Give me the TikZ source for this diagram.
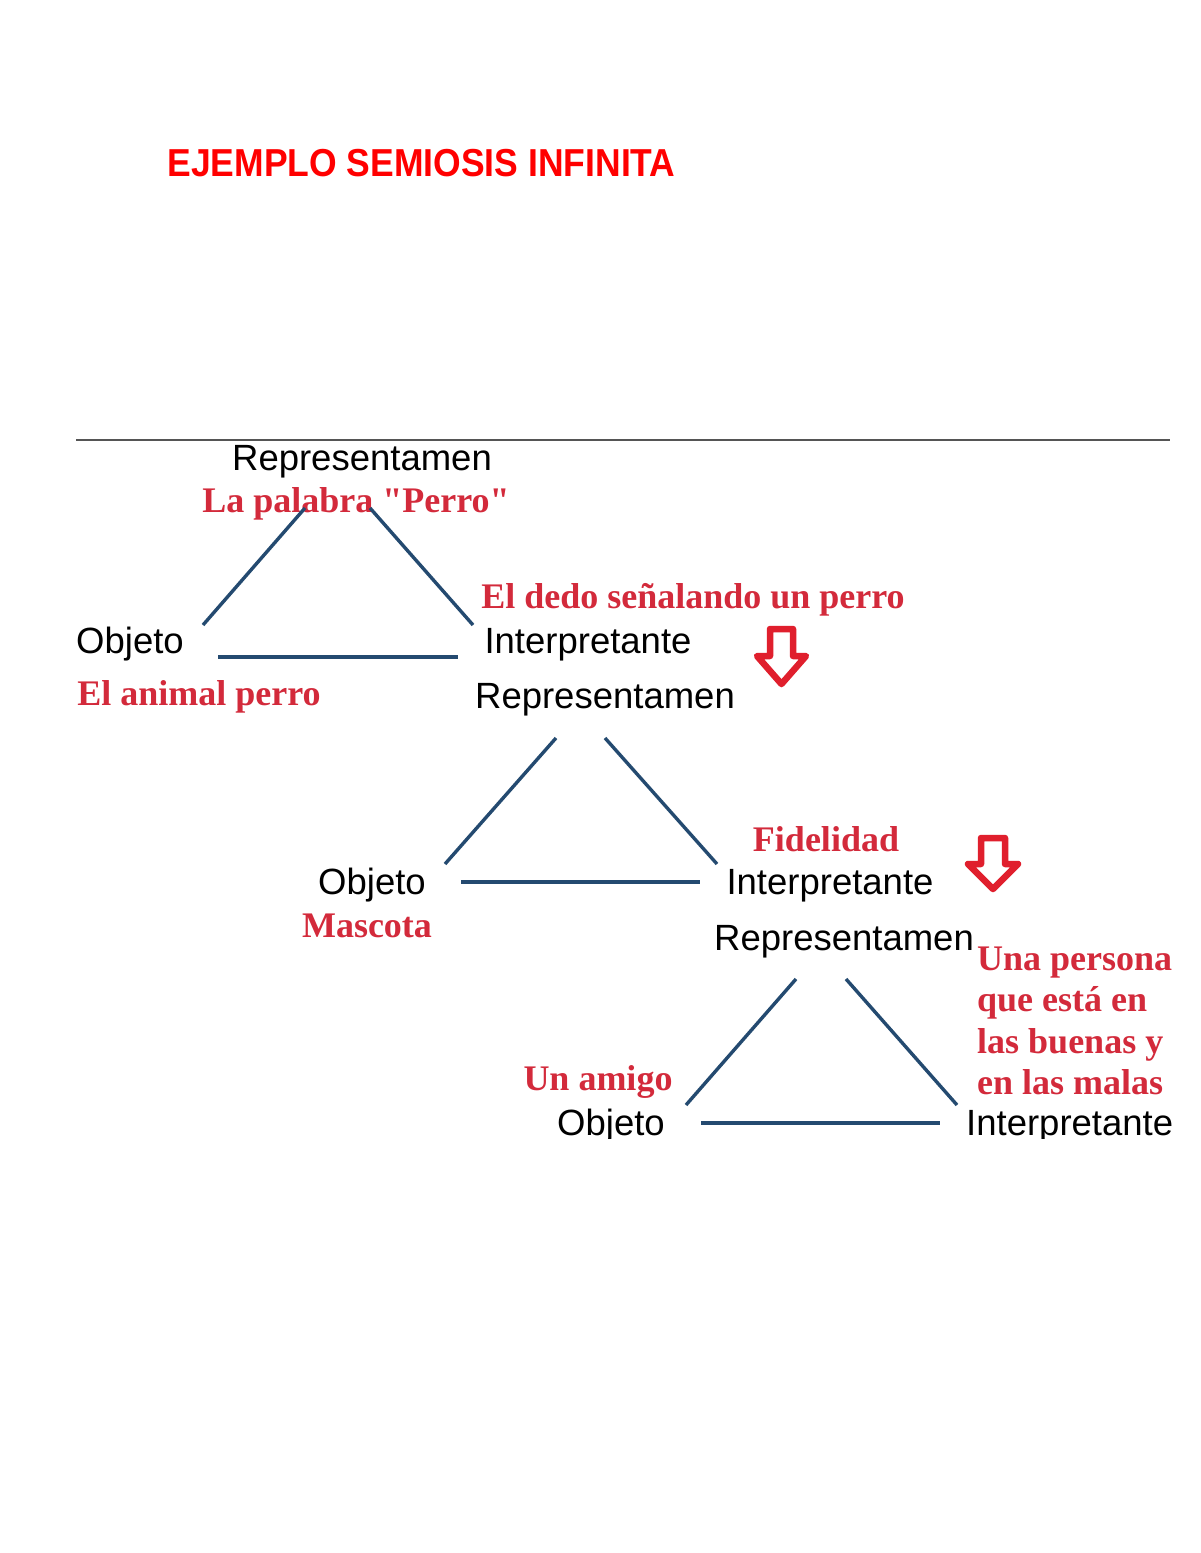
\documentclass[tikz,border=0pt]{standalone}
\usepackage{fontspec}
\setmainfont{Liberation Serif}
\setsansfont{Liberation Sans}
\newfontfamily\redserif{Liberation Serif}
\definecolor{titlered}{HTML}{FF0000}
\definecolor{sred}{HTML}{D32A3B}
\definecolor{ared}{HTML}{E01F2D}
\definecolor{lblue}{HTML}{244A70}
\definecolor{rulegray}{HTML}{555555}
\begin{document}
\begin{tikzpicture}[x=1pt,y=-1pt,
  lbl/.style={font=\sffamily\fontsize{36.5}{40}\selectfont, inner sep=0pt, anchor=base},
  rlbl/.style={font=\redserif\bfseries\fontsize{36}{41.5}\selectfont, text=sred, inner sep=0pt, anchor=base},
  edge/.style={draw=lblue, line width=3.4pt},
  downarrow/.style={draw=ared, line width=6.5pt, fill=white, line join=round}]
\useasboundingbox[fill=white] (0,0) rectangle (1200,1553);

% title
\node[font=\sffamily\bfseries\fontsize{39}{42}\selectfont, text=titlered, inner sep=0pt, anchor=base] (title) at (421.5,176) {\scalebox{0.91}[1]{EJEMPLO SEMIOSIS INFINITA}};

% rule
\coordinate (ruleL) at (76,440);
\coordinate (ruleR) at (1170,440);
\draw[rulegray, line width=1.2pt] (ruleL) -- (ruleR);

\begin{scope}
\clip (0,441) rectangle (1172,1138);
% ---- triangle 1
\node[lbl] (r1) at (362,470) {Representamen};
\node[rlbl] (r1t) at (356,512) {La palabra "Perro"};
\node[lbl] (o1) at (130,653) {Objeto};
\node[rlbl] (o1t) at (199,705) {El animal perro};
\node[rlbl] (i1t) at (693,608) {El dedo señalando un perro};
\node[lbl] (i1) at (588,653) {Interpretante};
\coordinate (t1a) at (203,625); \coordinate (t1b) at (305,508);
\coordinate (t1c) at (370,508); \coordinate (t1d) at (473,625);
\coordinate (t1e) at (218,657); \coordinate (t1f) at (458,657);
\draw[edge] (t1a) -- (t1b);
\draw[edge] (t1c) -- (t1d);
\draw[edge] (t1e) -- (t1f);
\draw[downarrow] (770,629) -- (793,629) -- (793,656) -- (806,656) -- (781.5,684) -- (757,656) -- (770,656) -- cycle;

% ---- triangle 2
\node[lbl] (r2) at (605,708) {Representamen};
\node[lbl] (o2) at (372,894) {Objeto};
\node[rlbl] (o2t) at (367,937) {Mascota};
\node[rlbl] (i2t) at (826,851) {Fidelidad};
\node[lbl] (i2) at (830,894) {Interpretante};
\coordinate (t2a) at (445,864); \coordinate (t2b) at (556,738);
\coordinate (t2c) at (605,738); \coordinate (t2d) at (717,864);
\coordinate (t2e) at (461,882); \coordinate (t2f) at (700,882);
\draw[edge] (t2a) -- (t2b);
\draw[edge] (t2c) -- (t2d);
\draw[edge] (t2e) -- (t2f);
\draw[downarrow] (981,838) -- (1005,838) -- (1005,864) -- (1018,864) -- (993,889) -- (968,864) -- (981,864) -- cycle;

% ---- triangle 3
\node[lbl] (r3) at (844,950) {Representamen};
\node[rlbl, anchor=base west] (i3t) at (977,970) {Una persona};
\node[rlbl, anchor=base west] (i3t2) at (977,1011) {que está en};
\node[rlbl, anchor=base west] (i3t3) at (977,1053) {las buenas y};
\node[rlbl, anchor=base west] (i3t4) at (977,1094) {en las malas};
\node[rlbl] (o3t) at (598,1090) {Un amigo};
\node[lbl] (o3) at (611,1135) {Objeto};
\node[lbl, anchor=base west] (i3) at (966,1135) {Interpretante};
\coordinate (t3a) at (686,1105); \coordinate (t3b) at (796,979);
\coordinate (t3c) at (846,979); \coordinate (t3d) at (957,1105);
\coordinate (t3e) at (701,1123); \coordinate (t3f) at (940,1123);
\draw[edge] (t3a) -- (t3b);
\draw[edge] (t3c) -- (t3d);
\draw[edge] (t3e) -- (t3f);
\end{scope}
\end{tikzpicture}
\end{document}
